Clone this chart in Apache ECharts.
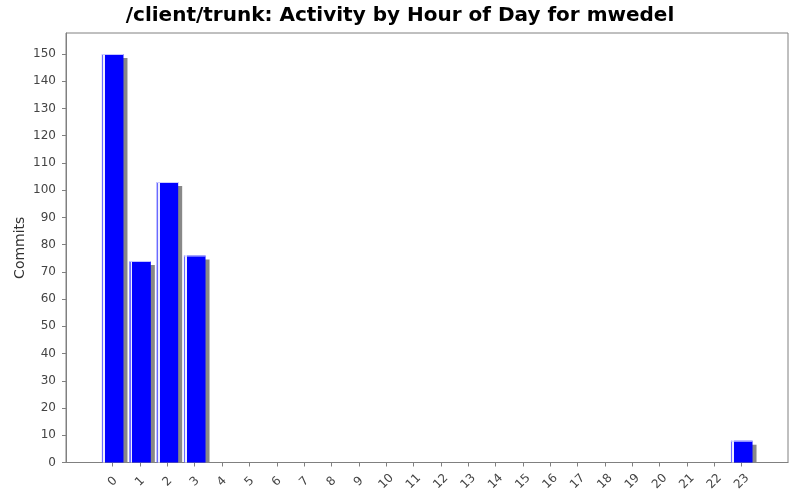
<!DOCTYPE html>
<html><head><meta charset="utf-8">
<script src="https://cdn.jsdelivr.net/npm/echarts@6/dist/echarts.min.js"></script>
<style>html,body{margin:0;padding:0;background:#fff}#c{width:800px;height:500px}</style>
</head><body><div id="c"></div>
<script>
const hours = ['0','1','2','3','4','5','6','7','8','9','10','11','12','13','14','15','16','17','18','19','20','21','22','23'];
const commits = [150, 74, 103, 76, 0, 0, 0, 0, 0, 0, 0, 0, 0, 0, 0, 0, 0, 0, 0, 0, 0, 0, 0, 8];
const yTicks = [0,10,20,30,40,50,60,70,80,90,100,110,120,130,140,150];
const yMax = 157.7;
const titleText = '/client/trunk: Activity by Hour of Day for mwedel';
const yName = 'Commits';

const chart = echarts.init(document.getElementById('c'), null, {renderer:'canvas'});
const font = 'DejaVu Sans';
const barFill = new echarts.graphic.LinearGradient(0,0,1,0,[
  {offset:0,color:'#6a6aff'},{offset:0.07,color:'#6a6aff'},
  {offset:0.071,color:'#eeeeff'},{offset:0.14,color:'#eeeeff'},
  {offset:0.141,color:'#0000ff'},{offset:1,color:'#0000ff'}
]);
function renderBar(params, api){
  const v = api.value(1);
  if (!v) return null;
  const top = api.coord([api.value(0), v]);
  const base = api.coord([api.value(0), 0]);
  const bw = api.size([1,0])[0]*0.79;
  const x0 = top[0]-bw/2;
  const h = base[1]-top[1];
  return {type:'group',children:[
    {type:'rect',shape:{x:x0+4,y:top[1]+4,width:bw,height:Math.max(h-4,0)},style:{fill:'#888888'}},
    {type:'rect',shape:{x:x0,y:top[1],width:bw,height:h},style:{fill:barFill}},
    {type:'rect',shape:{x:x0,y:top[1],width:bw,height:1},style:{fill:'#ccccff'}}
  ]};
}
chart.setOption({
  backgroundColor:'#ffffff',
  animation:false,
  title:{text:titleText,left:'center',top:1,textStyle:{fontFamily:font,fontSize:20,fontWeight:'bold',color:'#000'}},
  grid:[
    {left:66,right:12,top:33,bottom:37.5,show:true,borderColor:'#808080',borderWidth:1,backgroundColor:'#fff'},
    {left:99,right:44.6,top:33,bottom:37.5}
  ],
  xAxis:[
    {gridIndex:0,type:'value',min:0,max:1,offset:4,axisLine:{show:true,lineStyle:{color:'#808080'}},axisTick:{show:false},axisLabel:{show:false},splitLine:{show:false}},
    {gridIndex:1,type:'category',data:hours,offset:4,axisLine:{show:false},
     axisTick:{show:true,alignWithLabel:true,length:4,lineStyle:{color:'#808080'}},
     axisLabel:{rotate:45,interval:0,align:'center',verticalAlign:'middle',fontFamily:font,fontSize:12,color:'#444',margin:15},splitLine:{show:false}}
  ],
  yAxis:[
    {gridIndex:0,type:'value',min:0,max:yMax,offset:4,name:yName,nameLocation:'middle',nameGap:35,nameMoveOverlap:false,
     nameTextStyle:{fontFamily:font,fontSize:14,color:'#333'},
     axisLine:{show:true,lineStyle:{color:'#808080'}},
     axisTick:{show:true,length:4,customValues:yTicks,lineStyle:{color:'#808080'}},
     axisLabel:{customValues:yTicks,fontFamily:font,fontSize:12,color:'#444',margin:6},
     splitLine:{show:false}},
    {gridIndex:1,type:'value',min:0,max:yMax,show:false,splitLine:{show:false}}
  ],
  series:[{
    type:'custom',xAxisIndex:1,yAxisIndex:1,clip:false,
    data:hours.map((h,i)=>[i,commits[i]]),
    encode:{x:0,y:1},
    renderItem:renderBar
  }]
});
</script></body></html>
